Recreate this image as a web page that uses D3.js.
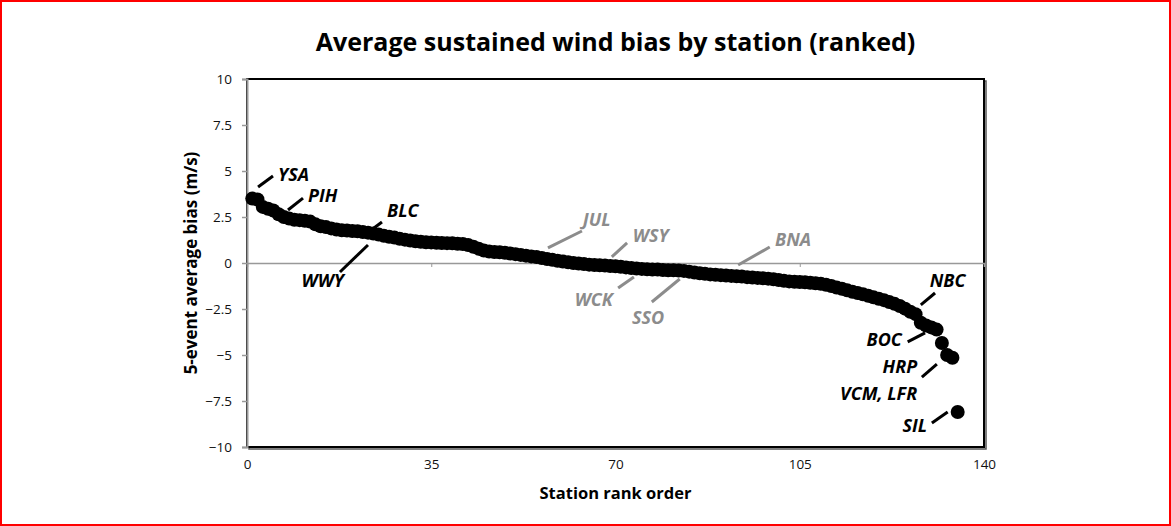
<!DOCTYPE html>
<html>
<head>
<meta charset="utf-8">
<script src="https://cdn.jsdelivr.net/npm/d3@7"></script>
<style>
body{margin:0;background:#fff;}
svg{display:block;}
</style>
</head>
<body>
<div id="svgContainer"></div>
<script>
// station bias values, already in rank order (rank = position + 1)
var bias = [3.50,3.45,3.05,2.95,2.85,2.65,2.50,2.42,2.35,2.33,
  2.30,2.25,2.10,2.00,1.95,1.88,1.82,1.78,1.76,1.74,
  1.72,1.68,1.65,1.60,1.55,1.48,1.42,1.38,1.32,1.27,
  1.22,1.18,1.15,1.13,1.12,1.10,1.09,1.08,1.07,1.05,
  1.03,0.98,0.88,0.78,0.68,0.62,0.60,0.58,0.56,0.52,
  0.48,0.44,0.40,0.36,0.32,0.27,0.22,0.17,0.12,0.08,
  0.04,0.00,-0.03,-0.06,-0.09,-0.11,-0.12,-0.14,-0.16,-0.18,
  -0.20,-0.24,-0.27,-0.30,-0.32,-0.34,-0.35,-0.36,-0.38,-0.39,
  -0.40,-0.41,-0.43,-0.47,-0.52,-0.56,-0.59,-0.62,-0.64,-0.66,
  -0.68,-0.70,-0.72,-0.74,-0.77,-0.79,-0.81,-0.83,-0.85,-0.88,
  -0.92,-0.97,-1.00,-1.02,-1.03,-1.05,-1.07,-1.10,-1.13,-1.18,
  -1.25,-1.33,-1.40,-1.48,-1.56,-1.63,-1.70,-1.78,-1.86,-1.94,
  -2.02,-2.12,-2.22,-2.34,-2.48,-2.65,-2.78,-3.25,-3.40,-3.50,
  -3.62,-4.35,-5.00,-5.15,-8.10];

var xTicks = [0,35,70,105,140];
var yTicks = [10,7.5,5,2.5,0,-2.5,-5,-7.5,-10];

// station call-outs: name, leader line (rank,bias)->(rank,bias), text spot (rank,bias)
var labelNames = ["YSA","PIH","BLC","WWY","JUL","WSY","WCK","SSO","BNA","NBC","BOC","HRP","VCM, LFR","SIL"];
var labelGray  = [false,false,false,false,true,true,true,true,true,false,false,false,false,false];
var leaders = [[2.1,4.13,4.94,4.73],[7.79,2.88,10.64,3.53],[22.6,1.58,25.64,2.23],[22.98,0.98,17.66,-0.49],
  [57.17,0.82,63.63,1.74],[69.3,0.33,72.2,1.09],[73.5,-0.76,70.5,-1.36],[82.2,-0.87,76.9,-2.12],
  [93.3,-0.11,99.3,0.87],[128.0,-2.28,130.7,-1.63],[125.5,-4.29,128.8,-3.80],[128.2,-6.20,131.05,-5.49],
  null,[130.1,-8.70,133.1,-8.10]];
var labelSpots = [[5.89,4.46,"start"],[11.59,3.32,"start"],[26.6,2.5,"start"],[18.42,-1.30,"end"],
  [63.8,2.01,"start"],[73.3,1.14,"start"],[69.5,-2.34,"end"],[76.2,-3.32,"middle"],
  [100.3,0.92,"start"],[129.7,-1.30,"start"],[124.4,-4.51,"end"],[127.3,-6.0,"end"],
  [127.3,-7.42,"end"],[129.2,-9.18,"end"]];

var svgWidth = 1171, svgHeight = 526;
var svg = d3.select("#svgContainer").append("svg")
  .attr("width",svgWidth).attr("height",svgHeight);

var plot = {left:247,right:984,top:79,bottom:447};
var x = d3.scaleLinear().domain([0,140]).range([plot.left,plot.right]);
var y = d3.scaleLinear().domain([-10,10]).range([plot.bottom,plot.top]);
var font = "'Open Sans', sans-serif";

// outer red border
svg.append("rect").attr("x",1).attr("y",1).attr("width",svgWidth-2).attr("height",svgHeight-2)
  .attr("fill","none").attr("stroke","#ff0000").attr("stroke-width",2);

// title
svg.append("text").attr("x",(plot.left+plot.right)/2).attr("y",51)
  .attr("text-anchor","middle").attr("font-family",font).attr("font-weight","bold")
  .attr("font-size",25).attr("fill","#000")
  .text("Average sustained wind bias by station (ranked)");

// plot frame with a little shadow
svg.append("rect").attr("x",plot.left+2).attr("y",plot.top+2)
  .attr("width",plot.right-plot.left).attr("height",plot.bottom-plot.top)
  .attr("fill","none").attr("stroke","#555").attr("stroke-width",1.5);
svg.append("rect").attr("x",plot.left).attr("y",plot.top)
  .attr("width",plot.right-plot.left).attr("height",plot.bottom-plot.top)
  .attr("fill","#fff").attr("stroke","#000").attr("stroke-width",2);

// y axis (gray line, ticks to the left)
var yAxis = svg.append("g").attr("transform","translate("+plot.left+",0)")
  .call(d3.axisLeft(y).tickValues(yTicks).tickSize(5).tickPadding(10)
    .tickFormat(function(d){ return d3.format("")(d); }));
yAxis.select(".domain").attr("stroke","#999").attr("stroke-width",2);
yAxis.selectAll(".tick line").attr("stroke","#999").attr("stroke-width",1.5);
yAxis.selectAll("text").attr("font-family",font).attr("font-size",13.5).attr("fill","#111");

// horizontal axis line at zero, labels placed under the plot
var zeroAxis = svg.append("g").attr("transform","translate(0,"+y(0)+")")
  .call(d3.axisBottom(x).tickValues(xTicks).tickSize(4).tickFormat(""));
zeroAxis.select(".domain").attr("stroke","#999").attr("stroke-width",1.5);
zeroAxis.selectAll(".tick line").attr("stroke","#999");

var xAxis = svg.append("g").attr("transform","translate(0,"+plot.bottom+")")
  .call(d3.axisBottom(x).tickValues(xTicks).tickSize(0).tickPadding(12));
xAxis.select(".domain").remove();
xAxis.selectAll("text").attr("font-family",font).attr("font-size",13.5).attr("fill","#111");

// axis titles
svg.append("text").attr("x",(plot.left+plot.right)/2).attr("y",499)
  .attr("text-anchor","middle").attr("font-family",font).attr("font-weight","bold")
  .attr("font-size",16.5).text("Station rank order");
svg.append("text").attr("transform","translate(197,"+y(0)+") rotate(-90)")
  .attr("text-anchor","middle").attr("font-family",font).attr("font-weight","bold")
  .attr("font-size",17).text("5-event average bias (m/s)");

// points
svg.append("g").selectAll("circle")
  .data(bias).enter().append("circle")
  .attr("cx",function(d,i){ return x(i+1); })
  .attr("cy",function(d){ return y(d); })
  .attr("r",7)
  .attr("fill","#000");

// call-outs
var ann = svg.append("g");
labelNames.forEach(function(name,i){
  var col = labelGray[i] ? "#8c8c8c" : "#000";
  var l = leaders[i];
  if(l){
    ann.append("line")
      .attr("x1",x(l[0])).attr("y1",y(l[1]))
      .attr("x2",x(l[2])).attr("y2",y(l[3]))
      .attr("stroke",col).attr("stroke-width",3);
  }
  var s = labelSpots[i];
  ann.append("text").attr("x",x(s[0])).attr("y",y(s[1]))
    .attr("text-anchor",s[2]).attr("font-family",font)
    .attr("font-weight","bold").attr("font-style","italic")
    .attr("font-size",18).attr("fill",col).text(name);
});
</script>
</body>
</html>
